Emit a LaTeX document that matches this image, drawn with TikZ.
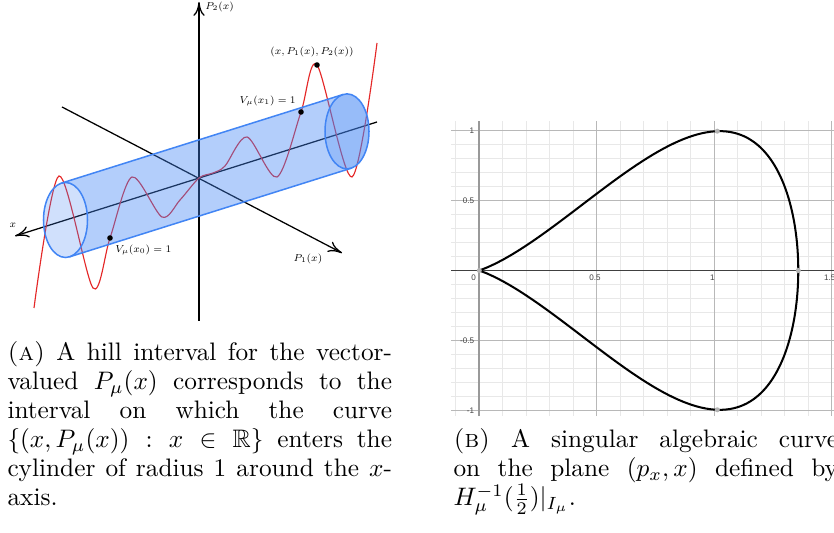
\documentclass[tikz,border=0pt]{standalone}
\usepackage{amsmath,amssymb}
\usepackage{fontspec}
\newfontfamily\desmosfont{Liberation Sans}
\usetikzlibrary{arrows.meta, calc}

\definecolor{cylblue}{RGB}{66,133,244}
\definecolor{curvered}{RGB}{228,40,40}

\begin{document}
\begin{tikzpicture}[x=0.3953pt, y=0.3953pt,
  axis/.style={line width=0.5pt, -{To[length=5.5pt,width=4.5pt]}},
  lbl/.style={font=\scriptsize, inner sep=0pt, transform shape, scale=0.57},
  hitdot/.style={circle, fill=black, inner sep=0pt, minimum size=2.2pt},
  cylface/.style={fill=cylblue, fill opacity=0.4},
  cylcap/.style={fill=cylblue, fill opacity=0.25},
  cyledge/.style={draw=cylblue, line width=0.6pt},
  minorgrid/.style={draw=black!9, line width=0.3pt},
  majorgrid/.style={draw=black!28, line width=0.4pt},
  ticklbl/.style={font=\desmosfont\fontsize{3.2}{3.6}\selectfont, text=black!75, inner sep=0pt},
  caption/.style={text width=152pt, align=justify, inner sep=0pt, anchor=north west,
    font=\fontsize{10}{11.5}\selectfont},
  declare function={cx(\t)=1.359*(1-(\t)*(\t));
    cy(\t)=cx(\t)*(\t)*sqrt(1.359*(0.25+2.1*cx(\t)+0.4*cx(\t)*cx(\t)));}
]
\useasboundingbox (0,0) rectangle (834,533);

% Left: curve through the cylinder
\begin{scope}[shift={(199,355)}]
\coordinate (O) at (0,0);
\coordinate (p2bot) at (0,-143);
\coordinate (p2top) at (0,176);
\coordinate (xright) at (178,56);
\coordinate (xleft) at (-184,-58);
\coordinate (p1back) at (-137,71);
\coordinate (p1front) at (143,-75);

\draw[axis] (p2bot) -- (p2top);
\draw[axis] (xright) -- (xleft);
\draw[axis] (p1back) -- (p1front);

% the curve (x, P_1(x), P_2(x))
\draw[curvered, line width=0.45pt] plot[smooth] coordinates {(-165,-130) (-140,2) (-106,-110) (-89,-60) (-67,1) (-37,-39) (-19,-22) (0,0) (14,5) (26,12) (48,41) (78,1) (102,66) (118,113) (153,1) (178,135)};

% cylinder of radius 1
\coordinate (c0) at (-133.5,-42);
\coordinate (c1) at (148,46.6);
\path (c0) +(100.5:22 and 37.5) coordinate (c0top) +(-79.5:22 and 37.5) coordinate (c0bot);
\path (c1) +(100.5:22 and 37.5) coordinate (c1top) +(-79.5:22 and 37.5) coordinate (c1bot);

\fill[cylface] (c0top) -- (c1top) arc[start angle=100.5, end angle=-79.5, x radius=22, y radius=37.5]
  -- (c0bot) arc[start angle=-79.5, end angle=100.5, x radius=22, y radius=37.5] -- cycle;
\fill[cylcap] (c0) ellipse[x radius=22, y radius=37.5];
\fill[cylcap] (c1) ellipse[x radius=22, y radius=37.5];
\draw[cyledge] (c0) ellipse[x radius=22, y radius=37.5];
\draw[cyledge] (c1) ellipse[x radius=22, y radius=37.5];
\draw[cyledge] (c0top) -- (c1top);
\draw[cyledge] (c0bot) -- (c1bot);

% points and labels
\node[hitdot] (v0) at (-89,-60) {};
\node[hitdot] (v1) at (102,66) {};
\node[hitdot] (peak) at (118,113) {};
\node[lbl, anchor=west] (v0lbl) at (-84,-72) {$V_\mu(x_0)=1$};
\node[lbl, anchor=east] (v1lbl) at (97,77) {$V_\mu(x_1)=1$};
\node[lbl] (peaklbl) at (113,126) {$(x,P_1(x),P_2(x))$};
\node[lbl] (xlbl) at (-186,-47) {$x$};
\node[lbl] (p1lbl) at (109,-81) {$P_1(x)$};
\node[lbl, anchor=west] (p2lbl) at (6,171) {$P_2(x)$};
\end{scope}

% Right: the level set
\begin{scope}[shift={(479.3,262.5)}, x=92.78pt, y=55.34pt]
\foreach \i in {-1,...,15} \draw[minorgrid] (\i/10,-1.04) -- (\i/10,1.07);
\foreach \j in {-10,...,10} \draw[minorgrid] (-0.12,\j/10) -- (1.56,\j/10);
\foreach \i in {0.5,1,1.5} \draw[majorgrid] (\i,-1.04) -- (\i,1.07);
\foreach \j in {-1,-0.5,0.5,1} \draw[majorgrid] (-0.12,\j) -- (1.56,\j);
\draw[black!75, line width=0.5pt] (-0.12,0) -- (1.56,0);
\draw[black!40, line width=0.9pt] (0,-1.04) -- (0,1.07);

% tick labels
\foreach \j [count=\k] in {-1,-0.5,0.5,1} \node[ticklbl, anchor=east] (yt\k) at (-0.02,\j) {\j};
\foreach \i [count=\k] in {0.5,1,1.5} \node[ticklbl, anchor=north] (xt\k) at (\i-0.007,-0.025) {\i};
\node[ticklbl, anchor=north east] (zero) at (-0.012,-0.025) {0};

\draw[line width=0.8pt] plot[domain=-1:1, samples=161, variable=\s] ({cx(\s)},{cy(\s)});
\foreach \p in {(0,0),(1.014,0.995),(1.014,-0.995),(1.359,0)} \fill[black!30] \p circle[radius=1pt];
\end{scope}

% captions
\node[caption] (capA) at (7,192) {\textsc{(a)} A hill interval for the vector-valued $P_\mu(x)$ corresponds to the\linebreak{} interval on which the curve\linebreak{} $\{(x,P_\mu(x)) : x\in\mathbb{R}\}$ enters the cylinder of radius 1 around the $x$-\linebreak{}axis.};
\node[caption] (capB) at (453,105) {\textsc{(b)} A singular algebraic curve on the plane $(p_x,x)$ defined by $H_\mu^{-1}(\frac{1}{2})|_{I_\mu}$.};
\end{tikzpicture}
\end{document}
